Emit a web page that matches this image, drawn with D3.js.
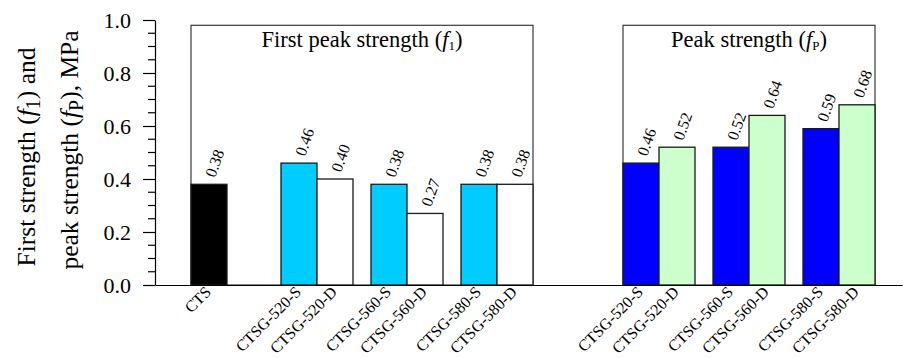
<!DOCTYPE html>
<html>
<head>
<meta charset="utf-8">
<script src="https://cdn.jsdelivr.net/npm/d3@7"></script>
<style>
  html, body { margin: 0; padding: 0; background: #fff; }
</style>
</head>
<body>
<svg id="chart" width="903" height="358"></svg>
<script>
// First peak strength f1 (left panel) and peak strength fP (right panel), MPa
const firstCategories = ["CTS", "CTSG-520-S", "CTSG-520-D", "CTSG-560-S", "CTSG-560-D", "CTSG-580-S", "CTSG-580-D"];
const firstValues = [0.38, 0.46, 0.40, 0.38, 0.27, 0.38, 0.38];
const peakCategories = ["CTSG-520-S", "CTSG-520-D", "CTSG-560-S", "CTSG-560-D", "CTSG-580-S", "CTSG-580-D"];
const peakValues = [0.46, 0.52, 0.52, 0.64, 0.59, 0.68];
const yTickValues = [0.0, 0.2, 0.4, 0.6, 0.8, 1.0];
const panelTitles = ["First peak strength", "Peak strength"];

const FONT = "'Liberation Serif', 'Times New Roman', serif";
const svg = d3.select("#chart").attr("font-family", FONT);
const axisX0 = 155, axisX1 = 902, axisY0 = 285, axisY1 = 20;

// bar slots: one unit per specimen pair, each bar 0.4 wide
const barW = 0.4;
const x = d3.scaleLinear().domain([-0.4, 7.9]).range([axisX0, axisX1]);
const y = d3.scaleLinear().domain([0, 1]).range([axisY0, axisY1]);

const firstSlot = i => i === 0 ? 0 : Math.ceil(i / 2) + ((i - 1) % 2) * barW;
const peakSlot = i => 4.8 + Math.floor(i / 2) + (i % 2) * barW;

const bars = [
  ...firstCategories.map((c, i) => ({
    cat: c, v: firstValues[i], slot: firstSlot(i),
    fill: i === 0 ? "#000000" : (c.endsWith("-S") ? "#00CCFF" : "#FFFFFF")
  })),
  ...peakCategories.map((c, i) => ({
    cat: c, v: peakValues[i], slot: peakSlot(i),
    fill: c.endsWith("-S") ? "#0000FF" : "#CCFFCC"
  }))
];

// panel frames behind the bars
const frameTop = 0.98;
const panels = [
  { x0: firstSlot(0), x1: firstSlot(firstCategories.length - 1) + barW, title: panelTitles[0], sub: "1" },
  { x0: peakSlot(0), x1: peakSlot(peakCategories.length - 1) + barW, title: panelTitles[1], sub: "P" }
];
svg.selectAll("rect.frame").data(panels).join("rect")
  .attr("class", "frame")
  .attr("x", d => x(d.x0)).attr("width", d => x(d.x1) - x(d.x0))
  .attr("y", y(frameTop)).attr("height", y(0) - y(frameTop))
  .attr("fill", "none").attr("stroke", "#3a3a3a").attr("stroke-width", 1.2);

const titles = svg.selectAll("text.ptitle").data(panels).join("text")
  .attr("class", "ptitle")
  .attr("x", d => (x(d.x0) + x(d.x1)) / 2).attr("y", 47)
  .attr("text-anchor", "middle").attr("font-size", 22.5).attr("font-family", FONT).attr("fill", "#000");
titles.append("tspan").text(d => d.title + " (");
titles.append("tspan").attr("font-style", "italic").text("f");
titles.append("tspan").attr("font-size", 13).attr("dy", 3).text(d => d.sub);
titles.append("tspan").attr("dy", -3).text(")");

// bars
svg.selectAll("rect.bar").data(bars).join("rect")
  .attr("class", "bar")
  .attr("x", d => x(d.slot)).attr("width", x(barW) - x(0))
  .attr("y", d => y(d.v)).attr("height", d => y(0) - y(d.v))
  .attr("fill", d => d.fill).attr("stroke", "#1a1a1a").attr("stroke-width", 1.3);

// value labels
svg.selectAll("text.val").data(bars).join("text")
  .attr("class", "val")
  .attr("transform", d => `translate(${x(d.slot + barW / 2) + 6},${y(d.v) - 6}) rotate(-70)`)
  .attr("font-size", 16).attr("font-family", FONT).attr("fill", "#000")
  .text(d => d3.format(".2f")(d.v));

// y axis with minor ticks
const yAxis = d3.axisLeft(y).tickValues(yTickValues).tickFormat(d3.format(".1f"))
  .tickSize(12).tickSizeOuter(0).tickPadding(12);
const gy = svg.append("g").attr("transform", `translate(${axisX0},0)`).call(yAxis)
  .attr("font-family", FONT).attr("font-size", 22);
gy.selectAll("text").attr("fill", "#000");
gy.selectAll("line, path").attr("stroke", "#000").attr("stroke-width", 1.2);
const minor = d3.range(0.05, 1.0, 0.05).filter(v => Math.abs(v * 5 - Math.round(v * 5)) > 1e-6);
gy.selectAll("line.minor").data(minor).join("line")
  .attr("class", "minor")
  .attr("x1", -7).attr("x2", 0).attr("y1", d => y(d)).attr("y2", d => y(d))
  .attr("stroke", "#000").attr("stroke-width", 1.2);

// x axis baseline and rotated specimen names
const xAxis = d3.axisBottom(x).tickValues([]).tickSizeOuter(0);
const gx = svg.append("g").attr("transform", `translate(0,${axisY0})`).call(xAxis);
gx.select("path").attr("stroke", "#000").attr("stroke-width", 1.2);
svg.selectAll("text.cat").data(bars).join("text")
  .attr("class", "cat")
  .attr("transform", d => `translate(${x(d.slot + barW / 2) + 3},${axisY0 + 8}) rotate(-45)`)
  .attr("text-anchor", "end").attr("font-size", 16).attr("font-family", FONT).attr("fill", "#000")
  .text(d => d.cat);

// y axis title, two lines
const ylab = svg.append("g").attr("transform", "rotate(-90)").attr("font-family", FONT).attr("font-size", 25.5);
const l1 = ylab.append("text").attr("x", -157).attr("y", 35).attr("text-anchor", "middle");
l1.append("tspan").text("First strength (");
l1.append("tspan").attr("font-style", "italic").text("f");
l1.append("tspan").attr("font-size", 20).attr("dy", 5).text("1");
l1.append("tspan").attr("dy", -5).text(") and");
const l2 = ylab.append("text").attr("x", -150).attr("y", 78).attr("text-anchor", "middle");
l2.append("tspan").text("peak strength (");
l2.append("tspan").attr("font-style", "italic").text("f");
l2.append("tspan").attr("font-size", 20).attr("dy", 5).text("P");
l2.append("tspan").attr("dy", -5).text("), MPa");
</script>
</body>
</html>
